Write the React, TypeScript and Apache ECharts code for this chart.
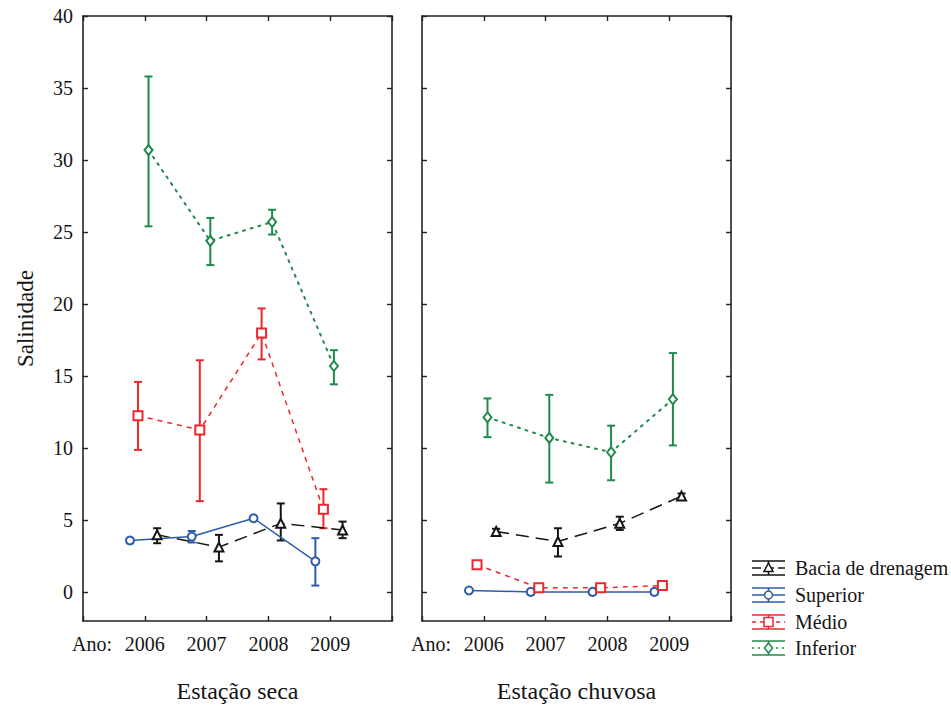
import React, { useEffect, useRef } from 'react';
import * as echarts from 'echarts';

const years = [2006, 2007, 2008, 2009];
const groups = ['Bacia de drenagem', 'Superior', 'Médio', 'Inferior'];
const yTicks = [0, 5, 10, 15, 20, 25, 30, 35, 40];
const seasons = ['Estação seca', 'Estação chuvosa'];

// Estação seca: means and error-bar limits
const secaBacia = [3.98, 3.13, 4.78, 4.32];
const secaBaciaLow = [3.4, 2.14, 3.59, 3.75];
const secaBaciaHigh = [4.44, 3.98, 6.16, 4.9];
const secaSuperior = [3.59, 3.86, 5.13, 2.14];
const secaSuperiorLow = [3.4, 3.45, 5.0, 0.46];
const secaSuperiorHigh = [3.75, 4.25, 5.25, 3.75];
const secaMedio = [12.25, 11.26, 18.0, 5.75];
const secaMedioLow = [9.88, 6.32, 16.16, 4.44];
const secaMedioHigh = [14.6, 16.1, 19.7, 7.15];
const secaInferior = [30.69, 24.39, 25.7, 15.7];
const secaInferiorLow = [25.4, 22.71, 24.83, 14.43];
const secaInferiorHigh = [35.8, 25.98, 26.55, 16.8];

// Estação chuvosa
const chuvaBacia = [4.21, 3.52, 4.78, 6.67];
const chuvaBaciaLow = [4.05, 2.48, 4.32, 6.5];
const chuvaBaciaHigh = [4.4, 4.44, 5.24, 6.85];
const chuvaSuperior = [0.12, 0.02, 0.02, 0.02];
const chuvaSuperiorLow = [0.12, 0.02, 0.02, 0.02];
const chuvaSuperiorHigh = [0.12, 0.02, 0.02, 0.02];
const chuvaMedio = [1.91, 0.3, 0.3, 0.46];
const chuvaMedioLow = [1.91, 0.3, 0.3, 0.46];
const chuvaMedioHigh = [1.91, 0.3, 0.3, 0.46];
const chuvaInferior = [12.14, 10.71, 9.72, 13.4];
const chuvaInferiorLow = [10.76, 7.61, 7.77, 10.19];
const chuvaInferiorHigh = [13.45, 13.7, 11.56, 16.6];

// horizontal jitter of each group around the year (in years)
const groupOffsets = [0.2, -0.24, -0.11, 0.06];

const colors = ['#151515', '#2D5DA9', '#EC2730', '#1F8A4C'];
const symbols = ['emptyTriangle', 'emptyCircle', 'emptyRect', 'emptyDiamond'];
const symbolSizes: any[] = [9, 8, 9, [8, 10]];
const dashes: any[] = [[13, 7], 'solid', [5, 5], [2, 6]];

const FONT = 'Liberation Serif';

const panelData = [
  {
    means: [secaBacia, secaSuperior, secaMedio, secaInferior],
    lows: [secaBaciaLow, secaSuperiorLow, secaMedioLow, secaInferiorLow],
    highs: [secaBaciaHigh, secaSuperiorHigh, secaMedioHigh, secaInferiorHigh],
  },
  {
    means: [chuvaBacia, chuvaSuperior, chuvaMedio, chuvaInferior],
    lows: [chuvaBaciaLow, chuvaSuperiorLow, chuvaMedioLow, chuvaInferiorLow],
    highs: [chuvaBaciaHigh, chuvaSuperiorHigh, chuvaMedioHigh, chuvaInferiorHigh],
  },
];

const gridLefts = [83, 422];

export default function App() {
  const ref = useRef<HTMLDivElement>(null);

  useEffect(() => {
    if (!ref.current) return;
    const chart = echarts.init(ref.current, null, { renderer: 'svg' });

    const axisLine = { show: true, onZero: false, lineStyle: { color: '#222', width: 1.6 } };
    const tick = { show: true, inside: true, length: 5, lineStyle: { color: '#222', width: 1.4 } };

    const grids: any[] = [];
    const xAxes: any[] = [];
    const yAxes: any[] = [];
    const series: any[] = [];

    for (let p = 0; p < 2; p++) {
      grids.push({ left: gridLefts[p], top: 16, width: 309, height: 608, containLabel: false });
      xAxes.push({
        gridIndex: p,
        type: 'value',
        min: 2005,
        max: 2010,
        interval: 1,
        position: 'bottom',
        axisLine,
        axisTick: tick,
        splitLine: { show: false },
        axisLabel: {
          show: true,
          margin: 13,
          showMinLabel: true,
          showMaxLabel: true,
          fontFamily: FONT,
          fontSize: 20,
          color: '#151515',
          formatter: (v: number) =>
            v === 2005 ? '{a|Ano:}' : years.indexOf(v) >= 0 ? String(v) : '',
          rich: {
            a: { fontFamily: FONT, fontSize: 20, color: '#151515', padding: [0, 0, 0, 18] },
          },
        },
        name: seasons[p],
        nameLocation: 'middle',
        nameGap: 58,
        nameTextStyle: { fontFamily: FONT, fontSize: 24, color: '#151515' },
      });
      xAxes.push({
        gridIndex: p,
        type: 'value',
        min: 2005,
        max: 2010,
        interval: 1,
        position: 'top',
        axisLine,
        axisTick: tick,
        splitLine: { show: false },
        axisLabel: { show: false },
      });
      yAxes.push({
        gridIndex: p,
        type: 'value',
        min: -2,
        max: 40,
        position: 'left',
        axisLine,
        axisTick: { ...tick, customValues: yTicks },
        splitLine: { show: false },
        axisLabel: {
          show: p === 0,
          customValues: yTicks,
          margin: 10,
          fontFamily: FONT,
          fontSize: 20,
          color: '#151515',
        },
        name: p === 0 ? 'Salinidade' : '',
        nameLocation: 'middle',
        nameGap: 46,
        nameTextStyle: { fontFamily: FONT, fontSize: 23, color: '#151515' },
      });
      yAxes.push({
        gridIndex: p,
        type: 'value',
        min: -2,
        max: 40,
        position: 'right',
        axisLine,
        axisTick: { ...tick, customValues: yTicks },
        splitLine: { show: false },
        axisLabel: { show: false },
      });

      const pd = panelData[p];
      for (let g = 0; g < groups.length; g++) {
        const color = colors[g];
        const xs = years.map((y) => y + groupOffsets[g]);
        series.push({
          type: 'custom',
          name: groups[g] + ' err ' + p,
          xAxisIndex: p * 2,
          yAxisIndex: p * 2,
          z: 2,
          silent: true,
          encode: { x: 0, y: [1, 2] },
          data: xs.map((x, i) => [x, pd.lows[g][i], pd.highs[g][i]]),
          renderItem: (params: any, api: any) => {
            const x = api.value(0);
            const lo = api.value(1);
            const hi = api.value(2);
            const top = api.coord([x, hi]);
            const bot = api.coord([x, lo]);
            if (Math.abs(bot[1] - top[1]) < 1) return { type: 'group', children: [] };
            const w = 4;
            const st = { stroke: color, lineWidth: 2 };
            return {
              type: 'group',
              children: [
                { type: 'line', shape: { x1: top[0], y1: top[1], x2: bot[0], y2: bot[1] }, style: st },
                { type: 'line', shape: { x1: top[0] - w, y1: top[1], x2: top[0] + w, y2: top[1] }, style: st },
                { type: 'line', shape: { x1: bot[0] - w, y1: bot[1], x2: bot[0] + w, y2: bot[1] }, style: st },
              ],
            };
          },
        });
        series.push({
          type: 'line',
          name: groups[g],
          xAxisIndex: p * 2,
          yAxisIndex: p * 2,
          z: 3,
          data: xs.map((x, i) => [x, pd.means[g][i]]),
          symbol: symbols[g],
          symbolSize: symbolSizes[g],
          showAllSymbol: true,
          lineStyle: { color, width: g === 3 ? 2 : 1.5, type: dashes[g], cap: g === 3 ? 'round' : 'butt' },
          itemStyle: { color, borderColor: color, borderWidth: 1.6 },
        });
      }
    }

    const legendYs = [568, 595, 622, 648];
    const legendChildren: any[] = [];
    const lx1 = 752;
    const lx2 = 785;
    const lcx = (lx1 + lx2) / 2;
    groups.forEach((name, g) => {
      const cy = legendYs[g];
      const color = colors[g];
      const st = { stroke: color, lineWidth: 1.6 };
      legendChildren.push(
        { type: 'line', shape: { x1: lx1, y1: cy - 7, x2: lx2, y2: cy - 7 }, style: st },
        { type: 'line', shape: { x1: lx1, y1: cy + 7, x2: lx2, y2: cy + 7 }, style: st },
        { type: 'line', shape: { x1: lcx, y1: cy - 7, x2: lcx, y2: cy + 7 }, style: st },
        {
          type: 'line',
          shape: { x1: lx1, y1: cy, x2: lx2, y2: cy },
          style: { stroke: color, lineWidth: 1.5, lineDash: g === 0 ? [9, 4] : g === 2 ? [4, 4] : g === 3 ? [2, 4] : null },
        }
      );
      const mst = { fill: '#fff', stroke: color, lineWidth: 1.5 };
      if (g === 0) {
        legendChildren.push({ type: 'polygon', shape: { points: [[lcx, cy - 5], [lcx + 4.5, cy + 3.5], [lcx - 4.5, cy + 3.5]] }, style: mst });
      } else if (g === 1) {
        legendChildren.push({ type: 'circle', shape: { cx: lcx, cy, r: 4 }, style: mst });
      } else if (g === 2) {
        legendChildren.push({ type: 'rect', shape: { x: lcx - 4.5, y: cy - 4.5, width: 9, height: 9 }, style: mst });
      } else {
        legendChildren.push({ type: 'polygon', shape: { points: [[lcx, cy - 5], [lcx + 4, cy], [lcx, cy + 5], [lcx - 4, cy]] }, style: mst });
      }
      legendChildren.push({
        type: 'text',
        x: 795,
        y: cy,
        style: { text: name, fill: '#151515', fontFamily: FONT, fontSize: 20, verticalAlign: 'middle', align: 'left' },
      });
    });

    chart.setOption({
      animation: false,
      backgroundColor: '#ffffff',
      grid: grids,
      xAxis: xAxes,
      yAxis: yAxes,
      series,
      graphic: [{ type: 'group', children: legendChildren }],
    });

    return () => chart.dispose();
  }, []);

  return (
    <div
      ref={ref}
      style={{ position: 'absolute', left: 0, top: 0, width: 951, height: 708, background: '#fff' }}
    />
  );
}
